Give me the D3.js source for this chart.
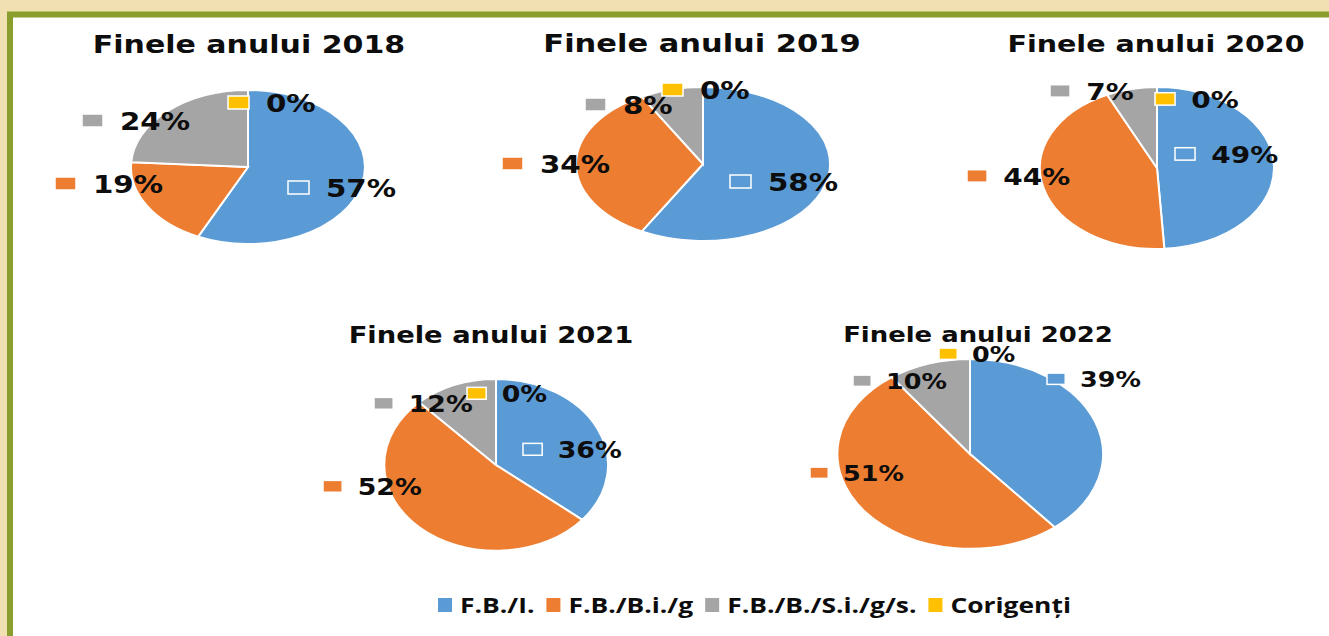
<!DOCTYPE html>
<html>
<head>
<meta charset="utf-8">
<script src="https://cdn.jsdelivr.net/npm/d3@7"></script>
<style>
  html, body { margin: 0; padding: 0; background: #f1e0b1; }
  svg { display: block; }
</style>
</head>
<body>
<svg id="chart" width="1329" height="636"></svg>
<script>
// categories and colours (Office palette)
const categories = ["F.B./I.", "F.B./B.i./g", "F.B./B./S.i./g/s.", "Corigenți"];
const colors = ["#5b9bd5", "#ed7d31", "#a5a5a5", "#ffc000"];

// percent shares per year, same order as categories
const years = [2018, 2019, 2020, 2021, 2022];
const values2018 = [57, 19, 24, 0];
const values2019 = [58, 34, 8, 0];
const values2020 = [49, 44, 7, 0];
const values2021 = [36, 52, 12, 0];
const values2022 = [39, 51, 10, 0];
const valuesByYear = [values2018, values2019, values2020, values2021, values2022];

// layout of each panel: pie centre / radii, title, label font and label anchors (offset from centre)
const panels = [
    { cx: 248, cy: 167, rx: 117, ry: 77, tx: 249, ty: 53, tsize: 25, lsize: 24.4,
      labels: [[40, 30], [-193, 26], [-166, -37], [-20, -55]] },
    { cx: 703, cy: 164, rx: 127, ry: 77, tx: 702, ty: 52, tsize: 25.4, lsize: 24.4,
      labels: [[27, 27], [-201, 9], [-118, -50], [-41, -65]] },
    { cx: 1157, cy: 168, rx: 117, ry: 81, tx: 1156, ty: 52, tsize: 23.8, lsize: 23.3,
      labels: [[18, -5], [-190, 17], [-107, -68], [-2, -60]] },
    { cx: 496, cy: 465, rx: 112, ry: 86, tx: 491, ty: 343, tsize: 22.8, lsize: 22.3,
      labels: [[27, -7], [-173, 30], [-122, -53], [-29, -63]] },
    { cx: 970, cy: 454, rx: 133, ry: 95, tx: 978, ty: 342, tsize: 21.6, lsize: 21.2,
      labels: [[77, -67], [-160, 27], [-117, -65], [-31, -92]] }
];

const textScale = 1.2; // the original picture is stretched horizontally
const fontFamily = "'DejaVu Sans', Verdana, sans-serif";

const svg = d3.select("#chart");

// olive frame, open to the right and bottom
svg.append("rect")
    .attr("x", 10)
    .attr("y", 14.5)
    .attr("width", 1400)
    .attr("height", 700)
    .attr("fill", "#ffffff")
    .attr("stroke", "#899e2c")
    .attr("stroke-width", 6);

const pie = d3.pie().sort(null).value(d => d);
const arc = d3.arc().innerRadius(0).outerRadius(1);

panels.forEach((p, i) => {
    const values = valuesByYear[i];
    const k = p.lsize / 24.4;

    // title
    svg.append("text")
        .attr("transform", "translate(" + p.tx + "," + p.ty + ") scale(" + textScale + ",1)")
        .attr("text-anchor", "middle")
        .style("font-family", fontFamily)
        .style("font-weight", "bold")
        .style("font-size", p.tsize + "px")
        .style("fill", "#0d0d0d")
        .text("Finele anului " + years[i]);

    // slices (unit circle stretched to the ellipse)
    const g = svg.append("g")
        .attr("transform", "translate(" + p.cx + "," + p.cy + ") scale(" + p.rx + "," + p.ry + ")");

    g.selectAll("path")
        .data(pie(values))
        .enter()
        .append("path")
        .attr("d", arc)
        .attr("fill", (d, j) => colors[j])
        .attr("stroke", "#ffffff")
        .attr("stroke-width", 2)
        .attr("vector-effect", "non-scaling-stroke");

    // data labels: legend key + percent
    values.forEach((v, j) => {
        const mx = p.cx + p.labels[j][0];
        const by = p.cy + p.labels[j][1];

        svg.append("rect")
            .attr("x", mx)
            .attr("y", by - 16 * k)
            .attr("width", 21 * k)
            .attr("height", 13 * k)
            .attr("fill", colors[j])
            .attr("stroke", "#ffffff")
            .attr("stroke-width", 1.5);

        svg.append("text")
            .attr("transform", "translate(" + (mx + 38 * k) + "," + by + ") scale(" + textScale + ",1)")
            .style("font-family", fontFamily)
            .style("font-weight", "bold")
            .style("font-size", p.lsize + "px")
            .style("fill", "#0d0d0d")
            .text(v + "%");
    });
});

// legend
const legendScale = 1.2;
let lx = 438;
const legend = svg.append("g");
categories.forEach((c, j) => {
    legend.append("rect")
        .attr("x", lx)
        .attr("y", 598)
        .attr("width", 14)
        .attr("height", 14)
        .attr("fill", colors[j]);

    const t = legend.append("text")
        .attr("transform", "translate(" + (lx + 22) + ",613) scale(" + legendScale + ",1)")
        .style("font-family", "'Open Sans', sans-serif")
        .style("font-weight", "bold")
        .style("font-size", "22px")
        .style("fill", "#0d0d0d")
        .text(c);

    lx += 22 + t.node().getComputedTextLength() * legendScale + 12;
});
</script>
</body>
</html>
